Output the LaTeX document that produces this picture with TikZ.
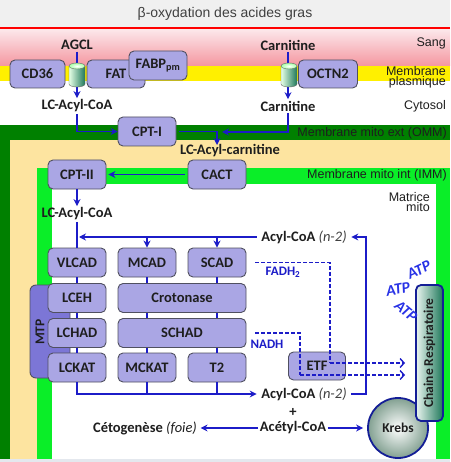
\documentclass[tikz,border=0pt]{standalone}
\usepackage{fontspec}
\usetikzlibrary{arrows.meta,shadings}
\newfontfamily\lblfont{Liberation Sans}
\newfontfamily\nfont{Carlito}
\definecolor{boxfill}{RGB}{170,166,228}
\definecolor{boxline}{RGB}{80,80,96}
\definecolor{mtpfill}{RGB}{124,118,214}
\definecolor{arrowblue}{RGB}{28,28,200}
\definecolor{darkgreen}{RGB}{0,128,0}
\definecolor{tanband}{RGB}{253,228,160}
\definecolor{brightgreen}{RGB}{10,238,40}
\definecolor{yellowband}{RGB}{255,240,0}
\definecolor{txt}{RGB}{30,30,30}
\definecolor{chainblue}{RGB}{20,30,150}
\definecolor{teal}{RGB}{30,120,90}
\definecolor{pinktop}{RGB}{252,232,235}
\definecolor{pinkbot}{RGB}{244,150,160}
\definecolor{bottomgray}{RGB}{228,232,238}
\definecolor{krebsout}{RGB}{130,160,145}
\definecolor{chainleft}{RGB}{235,245,240}
\definecolor{atpblue}{RGB}{40,50,230}
\tikzset{
  ebox/.style={draw=boxline, line width=0.9pt, fill=boxfill, rounded corners=5pt,
    minimum width=58pt, minimum height=29pt, inner sep=0pt,
    font=\nfont\bfseries\fontsize{14.5}{16}\selectfont, text=txt},
  widebox/.style={ebox, minimum width=128pt},
  lab/.style={font=\nfont\bfseries\fontsize{14.5}{16}\selectfont, text=txt, inner sep=1.5pt},
  side/.style={font=\lblfont\fontsize{12.5}{13}\selectfont, text=txt, inner sep=0pt, anchor=east},
  arr/.style={draw=arrowblue, line width=1.8pt, -{Stealth[length=7pt,width=7pt]}},
  ln/.style={draw=arrowblue, line width=1.8pt},
  dsh/.style={draw=arrowblue, line width=1.4pt, dash pattern=on 4pt off 2pt,
    -{Straight Barb[length=4pt,width=9pt]}},
  dshl/.style={draw=arrowblue, line width=1.4pt, dash pattern=on 4pt off 2pt},
  bluelab/.style={font=\nfont\bfseries\fontsize{13}{15}\selectfont, text=arrowblue, inner sep=1pt},
  atp/.style={font=\nfont\bfseries\itshape\fontsize{15.5}{16}\selectfont, text=atpblue, inner sep=0pt},
}
\newcommand\cyl[1]{%
  \shade[left color=green!10!white, right color=teal, draw=black!60, line width=0.4pt]
    (#1-8,66) -- (#1-8,84) arc[start angle=180,end angle=360,x radius=8pt,y radius=3pt]
    -- (#1+8,66) -- cycle;
  \shade[inner color=white, outer color=green!35!white, draw=black!60, line width=0.4pt]
    (#1,66) ellipse[x radius=8pt, y radius=3pt];
}
\begin{document}
\begin{tikzpicture}[x=1pt,y=-1pt]
\useasboundingbox (0,0) rectangle (450,462);
% backgrounds
\fill[black!6] (0,0) rectangle (450,28);
\shade[top color=pinktop, bottom color=pinkbot] (0,29) rectangle (450,66);
\fill[yellowband] (0,66) rectangle (450,81);
\fill[white] (0,81) rectangle (450,125);
\fill[darkgreen] (0,125) rectangle (450,462);
\fill[tanband] (10,140) rectangle (450,462);
\fill[brightgreen] (37,168) rectangle (450,462);
\fill[white] (52,184) rectangle (436,459);
\fill[bottomgray] (0,459) rectangle (450,462);
\draw[red, line width=2pt] (0,28.5) -- (450,28.5);
\node[font=\lblfont\fontsize{14}{16}\selectfont, text=black!75] (title) at (225,14) {β-oxydation des acides gras};

% side labels
\node[side] (sang) at (446,43) {Sang};
\node[side, align=right, font=\lblfont\fontsize{12.5}{8.5}\selectfont] (mplas) at (446,77) {Membrane\\plasmique};
\node[side] (cyto) at (446,106) {Cytosol};
\node[side] (omm) at (447,133) {Membrane mito ext (OMM)};
\node[side] (imm) at (447,175) {Membrane mito int (IMM)};
\node[side, align=right, font=\lblfont\fontsize{12.5}{10.5}\selectfont] (mat) at (430,202) {Matrice\\mito};

% plasma membrane
\node[lab] (agcl) at (77,45) {AGCL};
\node[lab] (lca1) at (77,106) {LC-Acyl-CoA};
\node[lab] (carn1) at (288,45) {Carnitine};
\node[lab] (carn2) at (288,106) {Carnitine};
\draw[arr] (agcl.south) -- (lca1.north);
\draw[arr] (carn1.south) -- (carn2.north);
\node[ebox, minimum width=55pt, minimum height=28pt] (cd36) at (37.5,74) {CD36};
\node[ebox, minimum height=28pt] (fat) at (116,74) {FAT};
\node[ebox] (fabp) at (158,65.5) {FABP\textsubscript{pm}};
\node[ebox, minimum width=59pt, minimum height=28pt] (octn) at (328,74) {OCTN2};
\cyl{77}
\cyl{289}

% OMM
\node[ebox] (cpt1) at (147,131.5) {CPT-I};
\coordinate (cin) at (222,132);
\coordinate (cpo) at (217,145);
\draw[arr] (lca1.south) |- (cpt1.west);
\draw[arr] (carn2.south) |- (cin);
\draw[arr] ([xshift=3pt]cpt1.east) -| (cpo);
\node[lab] (lcac) at (230,151) {LC-Acyl-carnitine};

% IMM
\node[ebox] (cact) at (217,174.5) {CACT};
\node[ebox] (cpt2) at (77,174.5) {CPT-II};
\draw[arr] ([xshift=-3pt]cact.west) -- ([xshift=2pt]cpt2.east);
\node[lab] (lca2) at (77,214) {LC-Acyl-CoA};
\draw[arr] (cpt2.south) -- (lca2.north);

% MTP
\draw[draw=boxline, line width=0.9pt, fill=mtpfill, rounded corners=6pt] (30,285) rectangle (70,378);
\node[font=\nfont\bfseries\fontsize{13.5}{15}\selectfont, text=txt, rotate=90] (mtp) at (40,332) {MTP};

% enzymes
\node[ebox] (vlcad) at (77,262.5) {VLCAD};
\node[ebox] (mcad) at (147,262.5) {MCAD};
\node[ebox] (scad) at (217,262.5) {SCAD};
\node[ebox] (lceh) at (77,298) {LCEH};
\node[widebox] (croto) at (182,298) {Crotonase};
\node[ebox] (lchad) at (77,333) {LCHAD};
\node[widebox] (schad) at (182,333) {SCHAD};
\node[ebox] (lckat) at (77,367.5) {LCKAT};
\node[ebox] (mckat) at (147,367.5) {MCKAT};
\node[ebox] (t2) at (217,367.5) {T2};

% cycle
\node[lab] (acyltop) at (304,237) {Acyl-CoA \textmd{\itshape\color{black!75}(n-2)}};
\node[lab] (acylbot) at (304,394) {Acyl-CoA \textmd{\itshape\color{black!75}(n-2)}};
\coordinate (rc) at (366,237);
\draw[ln] (lca2.south) -- (vlcad.north);
\draw[arr] ([xshift=-3pt]acyltop.west) -- ([xshift=2pt]acyltop.west -| vlcad.north);
\draw[arr] (mcad.north |- acyltop.west) -- (mcad.north);
\draw[arr] (scad.north |- acyltop.west) -- (scad.north);
\draw[arr] ([xshift=3pt]acylbot.east) -| (rc) -- ([xshift=3pt]acyltop.east);
\draw[ln] (vlcad.south) -- (lceh.north);
\draw[ln] (lceh.south) -- (lchad.north);
\draw[ln] (lchad.south) -- (lckat.north);
\draw[ln] (mcad.south) -- (mcad.south |- croto.north);
\draw[ln] (scad.south) -- (scad.south |- croto.north);
\draw[ln] (mcad.south |- croto.south) -- (mcad.south |- schad.north);
\draw[ln] (scad.south |- croto.south) -- (scad.south |- schad.north);
\draw[ln] (mckat.north |- schad.south) -- (mckat.north);
\draw[ln] (t2.north |- schad.south) -- (t2.north);
\draw[arr] (lckat.south) |- ([xshift=-3pt]acylbot.west);
\draw[ln] (mckat.south) -- (mckat.south |- acylbot.west);
\draw[ln] (t2.south) -- (t2.south |- acylbot.west);

% ETF and dashed
\node[ebox, minimum width=57pt, minimum height=28pt] (etf) at (317,366) {ETF};
\coordinate (f1) at (330,363);
\coordinate (f2) at (405,363);
\coordinate (n1) at (300,375);
\coordinate (n2) at (405,375);
\draw[dshl] ([xshift=9pt]scad.east) -| (f1);
\draw[dsh] (f1) -- (f2);
\draw[dshl] ([xshift=9pt]schad.east) -| (n1);
\draw[dsh] (n1) -- (n2);
\node[bluelab] (fadh) at (283,272) {FADH\textsubscript{2}};
\node[bluelab] (nadh) at (267,344) {NADH};

% Krebs & chain
\node[circle, minimum size=60pt, inner sep=0pt, draw=chainblue, line width=1.8pt,
  inner color=white, outer color=krebsout,
  font=\nfont\bfseries\fontsize{13.5}{15}\selectfont, text=txt] (krebs) at (398,428) {Krebs};
\shade[left color=chainleft, right color=teal, draw=chainblue,
  line width=1.8pt, rounded corners=5pt] (416,285) rectangle (443,421);
\node[font=\nfont\bfseries\fontsize{13.5}{15}\selectfont, text=txt, rotate=90] (chain) at (429.5,353) {Chaine Respiratoire};
\node[atp, rotate=25] (atp1) at (419,270) {ATP};
\node[atp, rotate=10] (atp2) at (398,289) {ATP};
\node[atp, rotate=-40] (atp3) at (406,311) {ATP};

% bottom
\node[lab] (plus) at (293,412) {+};
\node[lab] (acet) at (293,428) {Acétyl-CoA};
\node[lab] (ceto) at (145,428) {Cétogenèse \textmd{\itshape(foie)}};
\draw[arr] (acet.west) -- ([xshift=2pt]ceto.east);
\draw[arr] (acet.east) -- ([xshift=-4pt]krebs.west);
\end{tikzpicture}
\end{document}
